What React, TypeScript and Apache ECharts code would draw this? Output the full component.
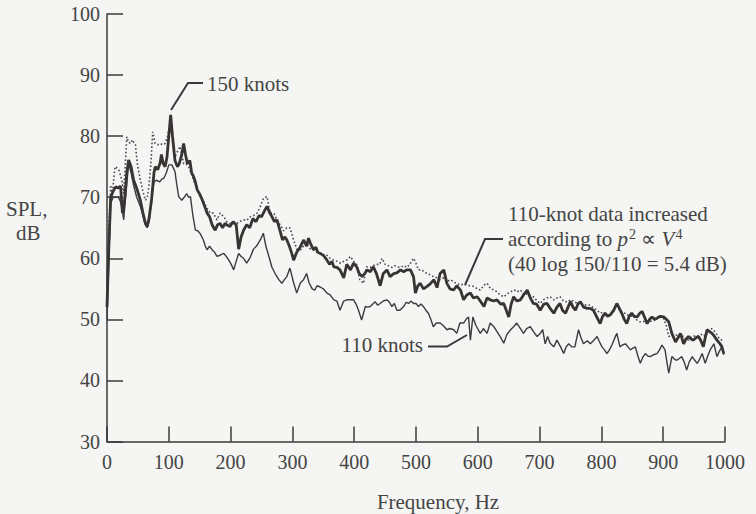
import React, { useEffect, useRef } from "react";
import * as echarts from "echarts";

const xTicks = [0, 100, 200, 300, 400, 500, 600, 700, 800, 900, 1000];
const yTicks = [30, 40, 50, 60, 70, 80, 90, 100];

// 150 knots (thick line)
const freq150 = [0,3,6,10,14,18,22,25,28,32,35,39,43,48,54,58,62,65,68,72,76,78,82,86,88,91,94,97,100,103,106,110,114,117,121,124,127,130,134,137,140,143,146,150,154,158,162,166,170,175,179,183,187,191,195,199,204,209,213,217,221,226,231,236,241,246,250,253,256,259,263,267,271,275,280,284,288,291,295,299,302,307,313,318,323,326,329,334,338,341,345,350,356,360,364,367,372,377,383,388,394,399,404,408,413,417,421,426,431,436,442,447,453,458,464,469,475,480,485,491,496,499,503,507,512,518,523,529,534,539,545,550,555,561,566,572,577,582,588,593,599,604,610,615,620,626,631,637,642,650,654,658,663,669,674,680,685,690,695,701,707,712,717,723,728,733,737,742,746,750,754,758,762,766,771,777,782,787,792,798,802,806,810,814,820,825,829,833,837,841,845,849,853,858,862,866,870,874,878,882,886,890,895,901,905,909,914,920,924,928,933,937,941,945,949,953,957,961,965,968,971,975,979,983,987,992,995,998];
const spl150 = [52,62,70,71,71.7,71.5,71.8,67.4,69,74,76.1,75,72.8,71.5,69.5,67.5,65.8,65.2,66.5,69.5,74,75,74.5,75.6,77,75.5,75,76.5,80,83.5,80,76,75,75.5,77,78.8,77,75.5,76,74,73.4,72.5,71.2,70.5,69.6,68.5,67.4,66.8,65.5,64.6,65.5,65.7,65,65.7,65.4,65.2,66,65.5,61.5,63.5,64.6,65.5,65,66.5,66,67,66.8,67.4,68,68.5,67.5,66.8,66,66.3,64.5,63,63.5,63,62,60.8,59.7,61,61.9,63,62,63.3,62.5,61.4,61.8,61,60.8,60.5,59.7,59,59.5,58.6,58.5,58.1,56.8,59,58.1,59.2,58.6,57.5,57,57.5,58.1,57.8,58.6,57.5,55.5,57.5,58.1,57,57.5,57.6,58.1,57.8,58.1,58.1,57,54.3,55.5,55.9,55,55.4,55.8,56.5,55.2,57.5,58.1,55.9,55,54.8,55.5,54.8,53.2,54,54.3,53.5,53.7,53,52.1,53.5,53.2,53,53.2,52.5,52.6,50.4,52.5,53.7,53,53.2,54,54.8,53.5,52.6,52.5,51.5,52.5,52.6,51.8,51,52,52.6,51.5,51,52,52.9,52,51.5,52.5,52.9,52,51.8,51.8,51.5,50.5,49.3,50.5,51,50.5,50.7,51.5,52.6,51.8,51,50,49.3,50.5,51,50.5,50.4,51,51.3,50.3,49.3,50,50.4,50,50.2,50.5,50.4,50,49.6,47.7,46.3,47,47.7,46,46.8,47.2,46.8,46.6,47,47.2,46.5,45.5,47,48.3,48,47.7,47.2,46.6,46,45.5,44.4];

// 110 knots (thin line)
const freq110 = [0,3,6,10,14,18,21,24,27,31,35,39,43,48,54,58,62,65,68,72,76,80,85,89,92,96,100,105,110,113,116,121,125,129,132,135,139,143,147,151,156,159,162,166,170,174,178,183,189,193,197,201,205,209,213,217,221,226,232,237,242,248,253,257,262,267,272,278,283,287,291,296,302,307,313,318,323,327,332,336,340,345,350,356,361,367,372,377,383,388,393,399,403,407,412,415,418,422,426,430,434,438,442,447,453,457,461,465,469,474,480,484,488,492,496,500,504,508,512,516,520,524,528,533,539,544,550,555,561,566,571,577,581,585,588,592,597,604,609,615,620,626,631,636,642,647,653,658,663,669,674,679,685,690,696,701,705,709,713,717,723,728,734,739,743,747,752,757,763,767,771,777,782,787,793,797,801,805,809,813,817,821,825,830,834,839,843,847,851,855,859,863,867,871,875,879,884,890,894,898,903,906,909,914,918,922,926,930,934,938,942,947,951,955,959,963,968,972,976,979,982,987,991,995,998];
const spl110 = [50,60,69,70,70,70,69.5,68.4,66.3,71,75.6,74,72,70,68.5,67,65.5,65,66,69.5,72.5,72.8,72.5,73,73.1,74,75.3,75.3,74.2,72,70.1,69.5,70,70.6,70,70.1,67,64.6,64.5,64,63,62,61.4,62,61.4,61,60.3,60.5,60.8,60.3,59.7,59,58.1,59.5,60.8,60.3,60,59.2,60.2,61.5,62,63,64.1,62,60.3,58.5,57.5,56.5,55.9,56.5,57,58.4,56,54.3,56,56.5,57.5,56,55,54.8,55.5,55.3,55,54.3,54,53.2,53,51.5,53,53.2,53.2,53.2,52.5,51.5,49.9,51,52.1,52,52.1,52.5,52.9,52.3,52.6,53,53.2,52.8,52.1,52.6,51.5,51.5,52.1,52.8,52.6,53,52.6,52.6,52.1,52.5,52.1,51.5,51,50,48.8,49.4,49.4,49,48.3,48.5,48.3,47.7,49.4,49.4,50,50.4,46.6,50.4,49,47.7,48.5,47.7,49.4,48.8,48,47.2,46.1,47.5,48.3,48.8,49.4,48.5,47.7,48.5,48.8,48,47.2,47.7,48.3,46,47.2,46.1,45.5,46.6,45.5,44.4,45.5,46,45.5,45.5,48.3,47,46,46.5,46,46.5,47.2,46.3,45.5,45,44.4,45,45.8,46.8,47.7,45.5,45.8,46,45.5,45,45.3,45.5,44,42.8,43.8,44.4,44,43.9,44.2,44.4,45,45.8,45,43,41.2,43.9,43.5,43.3,43.6,43.9,43,41.7,43,43.9,43.3,42.8,43.5,44.4,42.8,44,45,45.5,46,43.9,44.8,45.5,44.2];

// 110-knot data increased by 5.4 dB (dotted line)
const freqAdj = [0,3,6,8,11,13,16,19,22,24,27,30,32,35,38,41,43,46,49,54,58,62,65,68,71,74,78,82,86,90,94,98,102,106,110,114,118,121,124,128,132,136,140,145,151,156,161,167,172,178,183,189,194,199,205,210,215,221,226,232,237,243,248,253,259,264,270,275,280,286,291,296,302,307,313,318,323,329,334,340,345,351,356,361,367,372,378,383,388,394,399,404,409,415,420,426,431,436,441,445,450,455,461,466,470,475,480,485,490,496,500,504,509,513,518,523,528,534,539,545,550,556,561,566,572,577,582,587,593,599,604,610,615,620,626,631,636,642,648,653,659,664,669,675,680,685,690,696,701,706,712,717,723,728,733,739,745,750,755,761,766,771,777,782,788,793,798,803,808,813,819,824,829,834,840,845,851,856,862,867,873,878,884,889,895,900,905,909,914,919,924,929,934,939,944,949,954,959,964,968,973,978,982,987,991,995,998];
const splAdj = [56,65,72,70.1,73,75,74.8,74.5,73.5,72.8,70.6,76.1,79.9,79,78.8,79.4,79,78.6,75.5,72.8,71,69.5,69.8,72,75.5,80.7,78.8,78.6,78.8,78.6,78.8,80,82.1,79.5,76.6,77.5,78.3,77,75.5,75.5,75,74,72.8,71.5,70.1,69.5,68.3,67.4,67.4,66.3,67.4,66.8,66,65.7,65.7,65.7,66,66.3,66.2,66.8,67,67.4,68.5,69.8,70.1,67.4,67.4,66.3,65.5,64.5,65,65,63,61.5,61.4,62,62.5,61.5,61.4,61,60.8,60.5,60.5,60,59.7,59.5,59.2,59.5,59.7,60.3,59.5,59,56.5,55.9,58.6,58.5,58.8,59,59,60,59,58.8,58.5,58.8,58.6,58.5,58.8,58.5,59,60,59.2,58.1,58.1,57.8,57.5,57.3,57,56.8,56.5,56.8,56.2,56.5,56.1,55.9,55.6,55.8,55.6,55.5,55.4,55,54.8,55.6,55.9,55.1,54.8,54.5,54,53.7,54.2,54.5,54.8,54.5,54.8,54,54.2,53.9,53.7,53,52.6,53.2,53.5,53.7,53.2,53.5,53.7,53,52.8,53.2,53,52.6,52.8,52.3,52.4,52.3,51.8,51.5,51,51.2,50.8,50.6,51.2,52.3,51.6,51,51,50.5,50.6,50,49.6,49.6,49.8,49.6,49.8,50,50.5,50.3,49,47.2,47.4,47.3,47.5,47.6,47,46.5,47,47.3,47.2,47.4,47.6,47.2,47.9,48.5,48.2,47.5,46.8,46.6,46.5,45.2];

const FONT = "'Liberation Serif', 'Times New Roman', serif";
const INK = "#3a3a3a";
const TXT = "#444444";

export default function App() {
  const ref = useRef<HTMLDivElement>(null);
  useEffect(() => {
    if (!ref.current) return;
    document.body.style.margin = "0";
    document.body.style.background = "#f5f5f3";
    const chart = echarts.init(ref.current, undefined, { renderer: "svg" });
    const zip = (xs: number[], ys: number[]) => xs.map((x, i) => [x, ys[i]]);
    chart.setOption({
      animation: false,
      backgroundColor: "#f5f5f3",
      grid: { left: 107, right: 31, top: 14, bottom: 72.5, containLabel: false, outerBoundsMode: "none" },
      xAxis: {
        type: "value",
        min: xTicks[0],
        max: xTicks[xTicks.length - 1],
        interval: 100,
        name: "Frequency, Hz",
        nameLocation: "middle",
        nameGap: 50,
        nameTextStyle: { fontFamily: FONT, fontSize: 21, color: TXT, padding: [0, 0, 0, 44] },
        axisLine: { show: true, lineStyle: { color: INK, width: 1.5 } },
        axisTick: { show: true, inside: true, length: 15, lineStyle: { color: INK, width: 1.5 } },
        axisLabel: { fontFamily: FONT, fontSize: 20, color: TXT, margin: 10, formatter: (v: number) => String(v) },
        splitLine: { show: false },
      },
      yAxis: {
        type: "value",
        min: yTicks[0],
        max: yTicks[yTicks.length - 1],
        interval: 10,
        axisLine: { show: true, lineStyle: { color: INK, width: 1.5 } },
        axisTick: { show: true, inside: true, length: 16, lineStyle: { color: INK, width: 1.5 } },
        axisLabel: { fontFamily: FONT, fontSize: 20, color: TXT, margin: 7, formatter: (v: number) => String(v) },
        splitLine: { show: false },
      },
      series: [
        {
          name: "110-knot data increased",
          type: "line",
          data: zip(freqAdj, splAdj),
          showSymbol: false,
          lineStyle: { color: "#4a4a4a", width: 1.6, type: [1.6, 2.2] },
          z: 2,
        },
        {
          name: "110 knots",
          type: "line",
          data: zip(freq110, spl110),
          showSymbol: false,
          lineStyle: { color: "#3c3c3c", width: 1.4 },
          z: 3,
        },
        {
          name: "150 knots",
          type: "line",
          data: zip(freq150, spl150),
          showSymbol: false,
          lineStyle: { color: "#383434", width: 2.8 },
          z: 4,
        },
      ],
      graphic: [
        { type: "text", left: 6, top: 198, style: { text: "SPL,", font: `21px ${FONT}`, fill: TXT } },
        { type: "text", left: 16, top: 222, style: { text: "dB", font: `21px ${FONT}`, fill: TXT } },
        {
          type: "polyline",
          shape: { points: [[203, 83], [188, 83], [171, 110]] },
          style: { stroke: INK, lineWidth: 2, fill: "none" },
        },
        { type: "text", x: 207, y: 84, style: { text: "150 knots", font: `21px ${FONT}`, fill: TXT, verticalAlign: "middle" } },
        {
          type: "polyline",
          shape: { points: [[503, 239], [485, 239], [465, 285]] },
          style: { stroke: INK, lineWidth: 2, fill: "none" },
        },
        { type: "text", x: 508, y: 214, style: { text: "110-knot data increased", font: `21px ${FONT}`, fill: TXT, verticalAlign: "middle" } },
        {
          type: "text",
          x: 508,
          y: 239,
          style: {
            text: "according to {i|p}{s|2} ∝ {i|V}{s|4}",
            font: `21px ${FONT}`,
            fill: TXT,
            verticalAlign: "middle",
            rich: {
              i: { fontFamily: FONT, fontSize: 21, fontStyle: "italic", fill: TXT },
              s: { fontFamily: FONT, fontSize: 14, fill: TXT, padding: [0, 0, 10, 1] },
            },
          },
        },
        { type: "text", x: 508, y: 264, style: { text: "(40 log 150/110 = 5.4 dB)", font: `21px ${FONT}`, fill: TXT, verticalAlign: "middle" } },
        {
          type: "polyline",
          shape: { points: [[428, 346.5], [447, 346.5], [467, 335]] },
          style: { stroke: INK, lineWidth: 2, fill: "none" },
        },
        { type: "text", x: 423, y: 345, style: { text: "110 knots", font: `21px ${FONT}`, fill: TXT, verticalAlign: "middle", align: "right" } },
      ],
    });
    return () => chart.dispose();
  }, []);
  return <div ref={ref} style={{ position: "fixed", left: 0, top: 0, width: 756, height: 514 }} />;
}
